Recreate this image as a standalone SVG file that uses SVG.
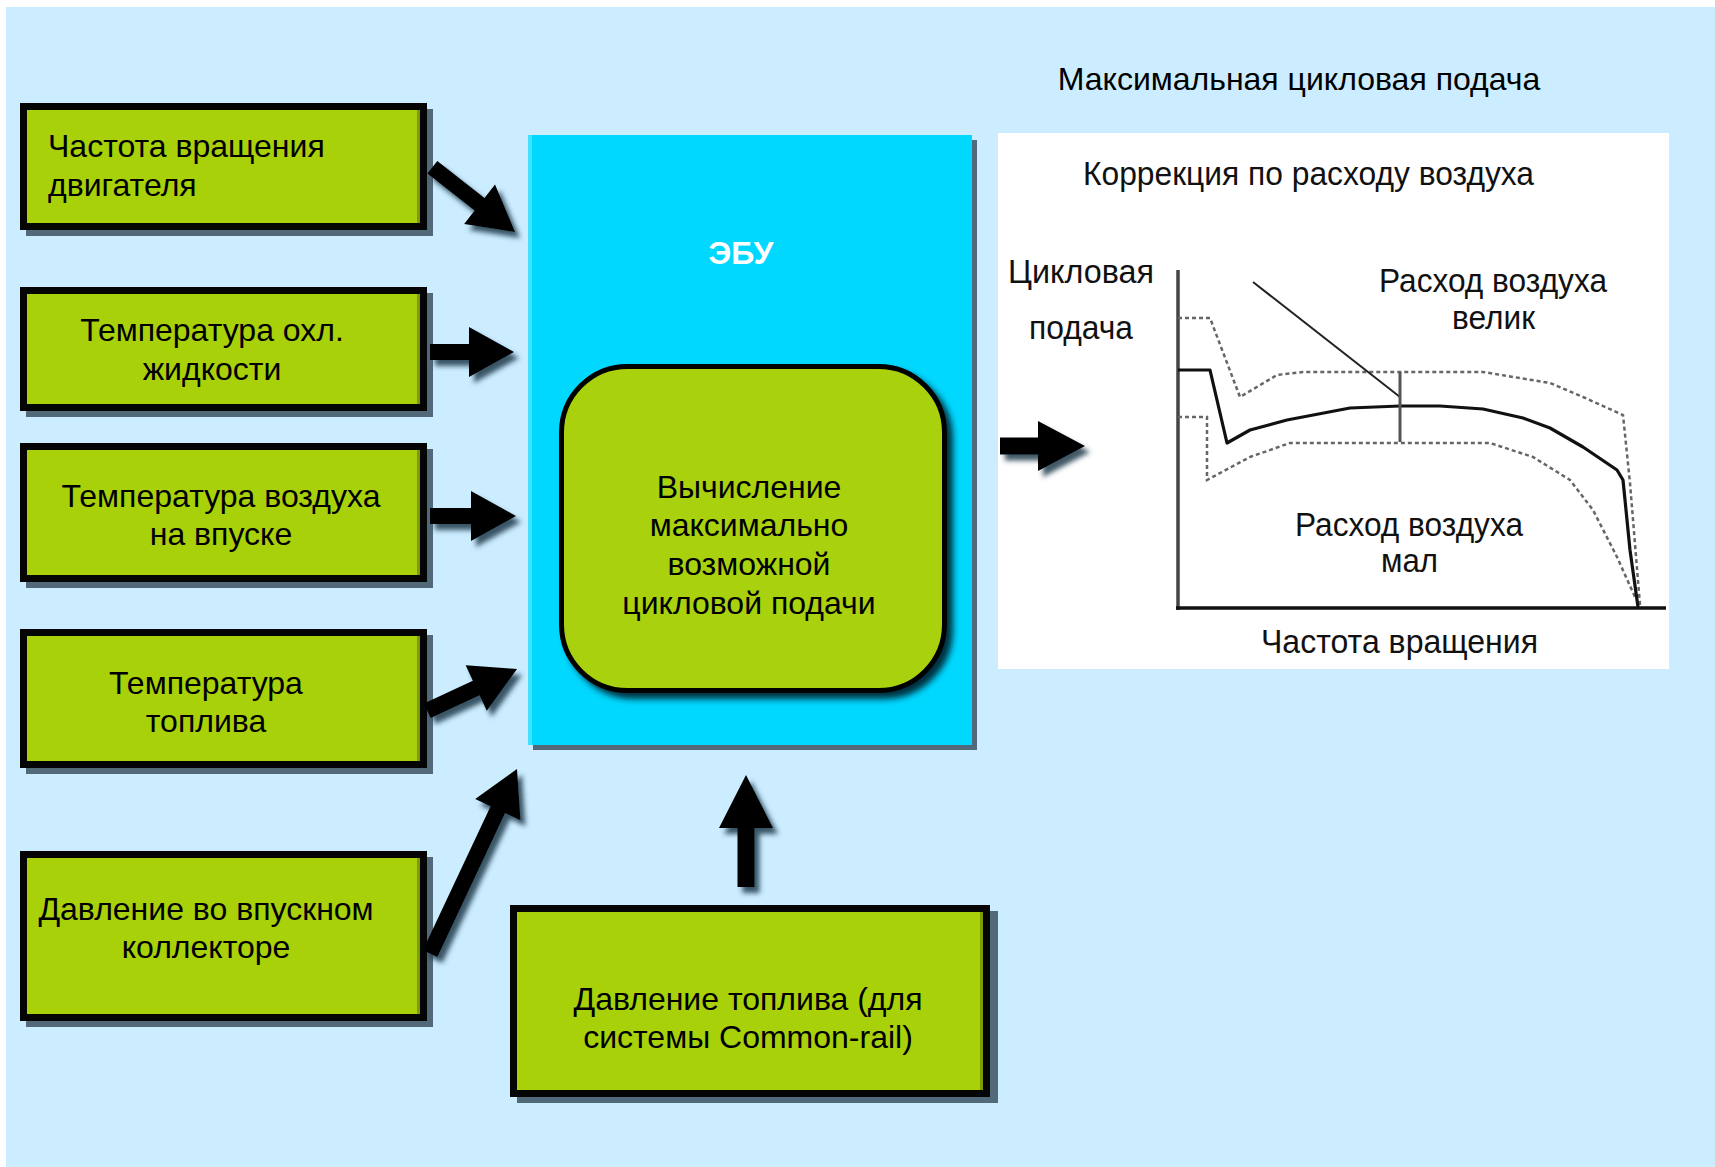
<svg xmlns="http://www.w3.org/2000/svg" width="1715" height="1167" viewBox="0 0 1715 1167">
<style>
.lbl{font-family:"Liberation Sans",Arial,sans-serif;font-size:32px;fill:#000}
.mid{text-anchor:middle}
.box{fill:#A9D109;stroke:#050505;stroke-width:7}
.shd{fill:#52697a}
.edge{fill:#7e9c02}
.arr{fill:#000}
.chart{font-family:"Liberation Sans",Arial,sans-serif;font-size:33px;fill:#111}
.dot{fill:none;stroke:#666;stroke-width:2.5;stroke-dasharray:4 3}
</style>
<defs>
<filter id="ash" x="-30%" y="-30%" width="160%" height="160%">
<feGaussianBlur in="SourceAlpha" stdDeviation="2.5"/>
<feOffset dx="5" dy="6" result="b"/>
<feFlood flood-color="#1e3a4a" flood-opacity="0.85"/>
<feComposite in2="b" operator="in"/>
<feMerge><feMergeNode/><feMergeNode in="SourceGraphic"/></feMerge>
</filter>
<filter id="rsh" x="-10%" y="-10%" width="125%" height="125%">
<feGaussianBlur in="SourceAlpha" stdDeviation="3"/>
<feOffset dx="6" dy="6" result="b"/>
<feFlood flood-color="#06202c" flood-opacity="0.9"/>
<feComposite in2="b" operator="in"/>
<feMerge><feMergeNode/><feMergeNode in="SourceGraphic"/></feMerge>
</filter>
</defs>
<rect x="0" y="0" width="1715" height="1167" fill="#ffffff"/>
<rect x="6" y="7" width="1709" height="1160" fill="#CCECFF"/>

<g id="title">
<text class="lbl mid" x="1299" y="90">Максимальная цикловая подача</text>
</g>

<g id="ecu">
<rect x="533" y="140" width="444" height="610" class="shd"/>
<rect x="528" y="135" width="444" height="610" fill="#00D8FF"/>
<rect x="528" y="135" width="4" height="610" fill="#3fe2ff"/>
<text x="741" y="264" text-anchor="middle" font-family="'Liberation Sans',Arial,sans-serif" font-size="32" font-weight="bold" fill="#fff">ЭБУ</text>
</g>

<g id="calc">
<rect x="561.5" y="366.5" width="383" height="324" rx="66" ry="66" fill="#A9D109" stroke="#000" stroke-width="5" filter="url(#rsh)"/>
<text class="lbl mid" x="749" y="498">Вычисление</text>
<text class="lbl mid" x="749" y="536">максимально</text>
<text class="lbl mid" x="749" y="575">возможной</text>
<text class="lbl mid" x="749" y="614">цикловой подачи</text>
</g>

<g id="in-rpm">
<rect x="26" y="109" width="407" height="127" class="shd"/>
<rect x="23.5" y="106.5" width="400" height="120" class="box"/>
<rect x="417" y="110" width="3" height="113" class="edge"/>
<text class="lbl" x="48" y="157">Частота вращения</text>
<text class="lbl" x="48" y="196">двигателя</text>
</g>

<g id="in-coolant">
<rect x="26" y="293" width="407" height="124" class="shd"/>
<rect x="23.5" y="290.5" width="400" height="117" class="box"/>
<rect x="417" y="294" width="3" height="110" class="edge"/>
<text class="lbl mid" x="212" y="341">Температура охл.</text>
<text class="lbl mid" x="212" y="380">жидкости</text>
</g>

<g id="in-air">
<rect x="26" y="449" width="407" height="139" class="shd"/>
<rect x="23.5" y="446.5" width="400" height="132" class="box"/>
<rect x="417" y="450" width="3" height="125" class="edge"/>
<text class="lbl mid" x="221" y="507">Температура воздуха</text>
<text class="lbl mid" x="221" y="545">на впуске</text>
</g>

<g id="in-fuel-temp">
<rect x="26" y="635" width="407" height="139" class="shd"/>
<rect x="23.5" y="632.5" width="400" height="132" class="box"/>
<rect x="417" y="636" width="3" height="125" class="edge"/>
<text class="lbl mid" x="206" y="694">Температура</text>
<text class="lbl mid" x="206" y="732">топлива</text>
</g>

<g id="in-manifold">
<rect x="26" y="857" width="407" height="170" class="shd"/>
<rect x="23.5" y="854.5" width="400" height="163" class="box"/>
<rect x="417" y="858" width="3" height="156" class="edge"/>
<text class="lbl mid" x="206" y="920">Давление во впускном</text>
<text class="lbl mid" x="206" y="958">коллекторе</text>
</g>

<g id="in-rail">
<rect x="517" y="911" width="481" height="192" class="shd"/>
<rect x="513.5" y="908.5" width="473" height="185" class="box"/>
<rect x="980" y="912" width="3" height="178" class="edge"/>
<text class="lbl mid" x="748" y="1010">Давление топлива (для</text>
<text class="lbl mid" x="748" y="1048">системы Common-rail)</text>
</g>

<g id="chart">
<rect x="998" y="133" width="671" height="536" fill="#ffffff"/>
<text class="chart" x="1083" y="185" textLength="451" lengthAdjust="spacingAndGlyphs">Коррекция по расходу воздуха</text>
<text class="chart" x="1008" y="283" textLength="146" lengthAdjust="spacingAndGlyphs">Цикловая</text>
<text class="chart" x="1029" y="339" textLength="104" lengthAdjust="spacingAndGlyphs">подача</text>
<text class="chart" x="1379" y="292" textLength="228" lengthAdjust="spacingAndGlyphs">Расход воздуха</text>
<text class="chart" x="1452" y="329" textLength="83" lengthAdjust="spacingAndGlyphs">велик</text>
<text class="chart" x="1295" y="536" textLength="228" lengthAdjust="spacingAndGlyphs">Расход воздуха</text>
<text class="chart" x="1381" y="572" textLength="57" lengthAdjust="spacingAndGlyphs">мал</text>
<text class="chart" x="1261" y="653" textLength="277" lengthAdjust="spacingAndGlyphs">Частота вращения</text>
<line x1="1178" y1="270" x2="1178" y2="610" stroke="#444" stroke-width="3.5"/>
<line x1="1176" y1="608" x2="1666" y2="608" stroke="#111" stroke-width="3.5"/>
<polyline class="dot" points="1178,318 1210,318 1240,397 1277,375 1303,372 1483,372 1550,383 1583,397 1623,415 1630,483 1640,605"/>
<polyline class="dot" points="1178,417 1207,417 1207,480 1250,457 1290,443 1490,443 1533,457 1570,480 1593,510 1617,557 1635,597"/>
<polyline fill="none" stroke="#111" stroke-width="3.2" stroke-linejoin="round" points="1178,370 1210,370 1227,443 1250,430 1287,420 1350,408 1400,406 1440,406 1483,409 1523,418 1550,428 1583,447 1617,470 1623,480 1630,550 1638,607"/>
<line x1="1253" y1="282" x2="1400" y2="397" stroke="#222" stroke-width="2"/>
<line x1="1400" y1="372" x2="1400" y2="442" stroke="#555" stroke-width="3"/>
</g>

<g id="connectors" filter="url(#ash)">
<polygon class="arr" transform="translate(515,232) rotate(38.1)" points="-105,-8 -45,-8 -45,-25 0,0 -45,25 -45,8 -105,8"/>
<polygon class="arr" transform="translate(514,352)" points="-84,-8 -45,-8 -45,-25 0,0 -45,25 -45,8 -84,8"/>
<polygon class="arr" transform="translate(516,516)" points="-86,-8 -45,-8 -45,-25 0,0 -45,25 -45,8 -86,8"/>
<polygon class="arr" transform="translate(517,669) rotate(-25)" points="-99,-8 -45,-8 -45,-25 0,0 -45,25 -45,8 -99,8"/>
<polygon class="arr" transform="translate(517,769) rotate(-64.8)" points="-204,-8 -45,-8 -45,-25 0,0 -45,25 -45,8 -204,8"/>
<polygon class="arr" transform="translate(746,775) rotate(-90)" points="-112,-8.5 -53,-8.5 -53,-27 0,0 -53,27 -53,8.5 -112,8.5"/>
<polygon class="arr" transform="translate(1085,446)" points="-85,-8.5 -47,-8.5 -47,-25 0,0 -47,25 -47,8.5 -85,8.5"/>
</g>
</svg>
